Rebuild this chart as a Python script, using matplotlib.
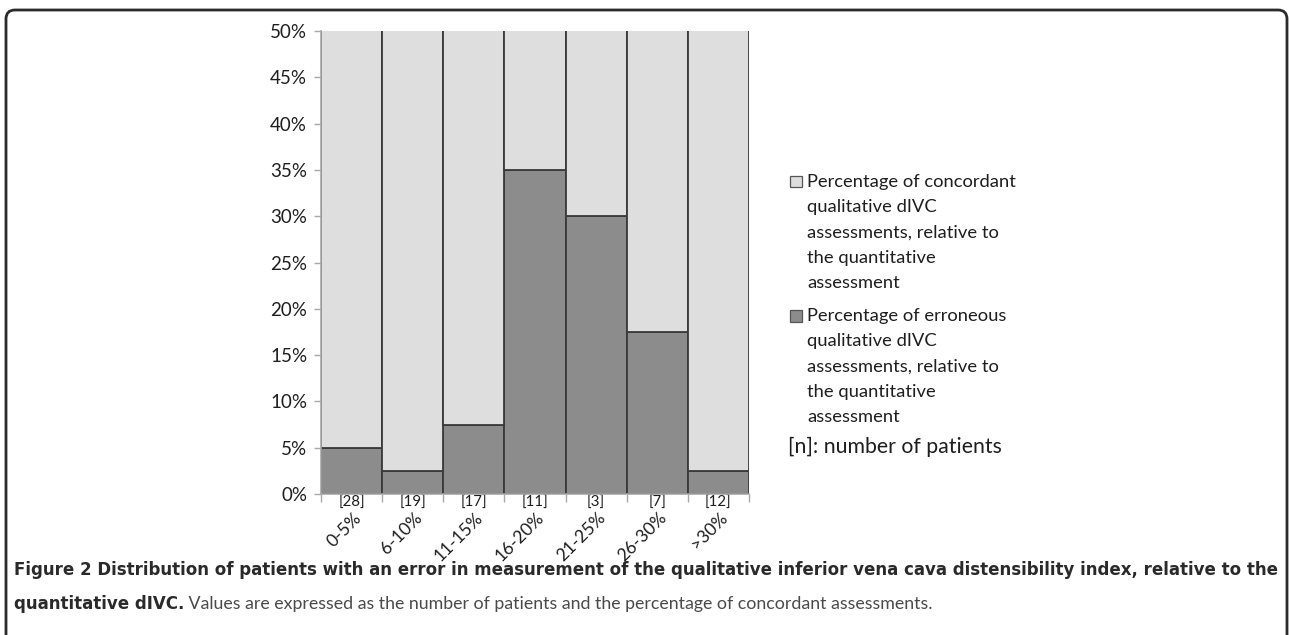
import matplotlib
matplotlib.use('Agg')
import matplotlib.pyplot as plt
from matplotlib import font_manager
from matplotlib.patches import FancyBboxPatch, Rectangle
from matplotlib.transforms import IdentityTransform
import numpy as np

# ---------------- data ----------------
categories = ['0-5%', '6-10%', '11-15%', '16-20%', '21-25%', '26-30%', '>30%']
patients = [28, 19, 17, 11, 3, 7, 12]
erroneous = [5, 2.5, 7.5, 35, 30, 17.5, 2.5]
concordant = [100 - v for v in erroneous]
yticks = [0, 5, 10, 15, 20, 25, 30, 35, 40, 45, 50]
legend_labels = [
    "Percentage of concordant\nqualitative dIVC\nassessments, relative to\nthe quantitative\nassessment",
    "Percentage of erroneous\nqualitative dIVC\nassessments, relative to\nthe quantitative\nassessment",
]
note_label = "[n]: number of patients"
caption_line1 = ("Figure 2 Distribution of patients with an error in measurement of the "
                 "qualitative inferior vena cava distensibility index, relative to the")
caption_bold2 = "quantitative dIVC."
caption_reg2 = " Values are expressed as the number of patients and the percentage of concordant assessments."

LIGHT = '#dedede'
DARK = '#8c8c8c'
EDGE = '#3a3a3a'
AXC = '#a8a8a8'
TXT = '#1e1e1e'

W, H = 1289, 635
DPI = 100


def has_font(name):
    try:
        font_manager.findfont(name, fallback_to_default=False)
        return True
    except Exception:
        return False


chart_font = 'Lato' if has_font('Lato') else 'DejaVu Sans'
cap_font = 'DejaVu Sans'
reg_font = 'Lato' if has_font('Lato') else 'DejaVu Sans'
plt.rcParams['font.family'] = [chart_font, 'DejaVu Sans']

fig = plt.figure(figsize=(W / DPI, H / DPI), dpi=DPI)


def fx(x):
    return x / W


def fy(y):
    return 1 - y / H


# axes placement (pixel based)
L, R, T, B = 321, 749, 31, 494
ax = fig.add_axes([fx(L), fy(B), fx(R) - fx(L), fy(T) - fy(B)])

x = np.arange(len(categories))
ax.bar(x, erroneous, width=1.0, color=DARK, edgecolor=EDGE, linewidth=1.3, zorder=2)
ax.bar(x, concordant, bottom=erroneous, width=1.0, color=LIGHT, edgecolor=EDGE,
       linewidth=1.3, zorder=2)
ax.set_xlim(-0.5, len(categories) - 0.5)
ax.set_ylim(0, 50)

for s in ['top', 'right']:
    ax.spines[s].set_visible(False)
for s in ['left', 'bottom']:
    ax.spines[s].set_color(AXC)
    ax.spines[s].set_linewidth(1.2)
    ax.spines[s].set_zorder(3)

ax.set_yticks(yticks)
ax.set_yticklabels([f'{v}%' for v in yticks])
ax.tick_params(axis='y', length=5, width=1, color=AXC, labelsize=13.5,
               labelcolor=TXT, pad=5)
ax.set_xticks(np.arange(len(categories) + 1) - 0.5)
ax.set_xticklabels([])
ax.tick_params(axis='x', length=6, width=1, color=AXC)

tr = ax.get_xaxis_transform()
for i, (c, n) in enumerate(zip(categories, patients)):
    ax.text(i, -0.019, f'[{n}]', transform=tr, ha='center', va='center',
            fontsize=10.8, color=TXT)
    ax.text(i + 0.02, -0.034, c, transform=tr, ha='right', va='top', rotation=45,
            rotation_mode='anchor', fontsize=12.6, color=TXT)

# legend (manual)
line_h = 25.3
starts = [182, 316]
for lab, col, y0 in zip(legend_labels, [LIGHT, DARK], starts):
    fig.patches.append(Rectangle((fx(790), fy(y0 + 5.5)), fx(11.5), 11.5 / H,
                                 transform=fig.transFigure, facecolor=col,
                                 edgecolor='#555555', linewidth=0.9))
    for k, ln in enumerate(lab.split('\n')):
        fig.text(fx(807), fy(y0 + k * line_h), ln, ha='left', va='center',
                 fontsize=13.2, color=TXT)
fig.text(fx(788), fy(447), note_label, ha='left', va='center', fontsize=15.3, color=TXT)

# frame
frame = FancyBboxPatch((6, -40), 1281, H - 10 + 40,
                       boxstyle='round,pad=0,rounding_size=9',
                       transform=IdentityTransform(), facecolor='none',
                       edgecolor='#2b2b2b', linewidth=2.0)
fig.patches.append(frame)

# caption
cap1 = fig.text(fx(14), fy(570), caption_line1, ha='left', va='center',
                fontsize=13, fontweight='bold', color='#2a2a2a',
                family=[cap_font])
capb = fig.text(fx(14), fy(604), caption_bold2, ha='left', va='center',
                fontsize=13, fontweight='bold', color='#2a2a2a',
                family=[cap_font])
capr = fig.text(fx(14), fy(604), caption_reg2, ha='left', va='center',
                fontsize=13, color='#4a4a4a', family=[reg_font, 'DejaVu Sans'])

fig.canvas.draw()
r = fig.canvas.get_renderer()
w1 = cap1.get_window_extent(r).width
scale = (1268 - 14) / w1
cap1.set_fontsize(13 * scale)
capb.set_fontsize(13 * scale)
fig.canvas.draw()
wb = capb.get_window_extent(r).width
start = 14 + wb
capr.set_x(fx(start))
wr = capr.get_window_extent(r).width
capr.set_fontsize(13 * (933 - start) / wr)

fig.savefig('out.png', dpi=DPI, facecolor='white')
